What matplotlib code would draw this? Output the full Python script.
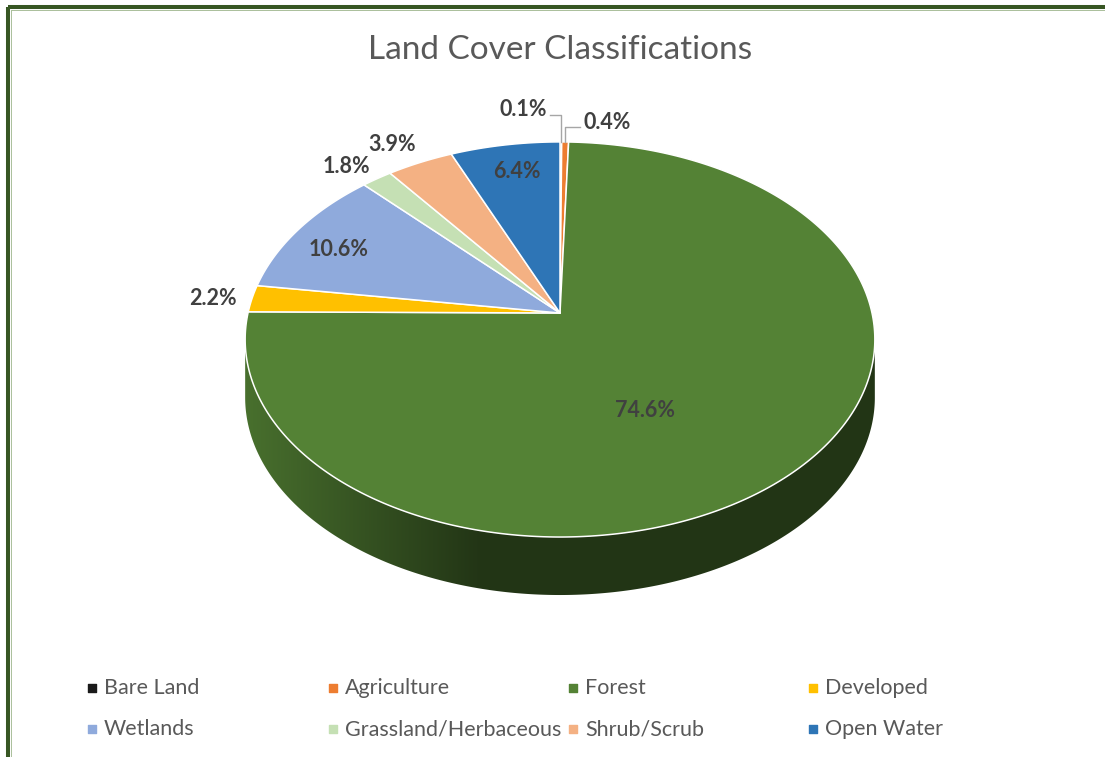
import numpy as np
import matplotlib
matplotlib.use('Agg')
import matplotlib.pyplot as plt
from matplotlib.patches import Polygon, Rectangle
from matplotlib.colors import to_rgb

plt.rcParams['font.family'] = ['Lato', 'DejaVu Sans']

# data
categories = ['Bare Land', 'Agriculture', 'Forest', 'Developed',
              'Wetlands', 'Grassland/Herbaceous', 'Shrub/Scrub', 'Open Water']
shares = [0.1, 0.4, 74.6, 2.2, 10.6, 1.8, 3.9, 6.4]
colors = ['#1a1a1a', '#ED7D31', '#548235', '#FFC000',
          '#8FAADC', '#C5E0B4', '#F4B183', '#2E75B6']

# label placement (radius factor, angle shift from slice middle)
label_r = [1.225, 1.147, 0.534, 1.125, 0.82, 1.135, 1.158, 0.82]
label_shift = [-6.6, 7.6, 15.4, -0.6, -2.5, -1.9, -1.7, 0.7]
leader = [True, True, False, False, False, False, False, False]

# pie geometry in pixels (perspective disk)
cx, cy = 560, 313
A, B, k = 312, 194, 0.134
depth = 58


def proj(r, theta):
    # theta: degrees clockwise from 12 o'clock
    phi = np.radians(90 - np.asarray(theta))
    u = r * np.cos(phi)
    v = r * np.sin(phi)
    w = 1 + k * v
    return cx + A * u / w, cy - B * v / w


fig = plt.figure(figsize=(11.05, 7.57), dpi=100)
ax = fig.add_axes([0, 0, 1, 1])
ax.axis('off')

# frame
ax.add_patch(Rectangle((8, 7), 1200, 800, fill=False, edgecolor='#375623', lw=2.9, zorder=1))
ax.add_patch(Rectangle((10.5, 9.5), 1200, 800, fill=False, edgecolor='#9cb48a', lw=0.6, zorder=1))

ax.text(560, 50, 'Land Cover Classifications', ha='center', va='center',
        fontsize=24, color='#595959')

total = sum(shares)
bounds = np.concatenate([[0], np.cumsum(shares)]) / total * 360

# side of the disk (front part only), shaded left→right
xl = proj(1, 262)[0]
xr = proj(1, 98)[0]
for i in range(len(shares)):
    ts = np.linspace(bounds[i], bounds[i + 1], max(int((bounds[i + 1] - bounds[i]) * 4), 2))
    vis = np.sin(np.radians(90 - ts)) < -k
    if vis.sum() < 2:
        continue
    ts = ts[vis]
    xs, ys = proj(1, ts)
    pts = list(zip(xs, ys)) + list(zip(xs[::-1], ys[::-1] + depth))
    poly = Polygon(pts, closed=True, facecolor='none', edgecolor='none', zorder=2)
    ax.add_patch(poly)
    gx = np.linspace(xl, xr, 400)
    f = np.clip((gx - xl) / (480 - xl), 0, 1)
    shade = 0.86 - 0.45 * f
    img = np.array(to_rgb(colors[i]))[None, None, :] * shade[None, :, None]
    im = ax.imshow(img, extent=[xl, xr, ys.max() + depth + 2, ys.min() - 2],
                   aspect='auto', interpolation='bilinear', zorder=2)
    im.set_clip_path(poly)

# top face
for i in range(len(shares)):
    a0, a1 = bounds[i], bounds[i + 1]
    ts = np.linspace(a0, a1, max(int((a1 - a0) * 2), 3))
    xs, ys = proj(1, ts)
    pts = [(cx, cy)] + list(zip(xs, ys))
    ax.add_patch(Polygon(pts, closed=True, facecolor=colors[i], edgecolor='white',
                         lw=1.1, joinstyle='round', zorder=3))

# labels
for i, s in enumerate(shares):
    mid = 0.5 * (bounds[i] + bounds[i + 1])
    lx, ly = proj(label_r[i], mid + label_shift[i])
    ax.text(lx, ly, f'{s:.1f}%', ha='center', va='center', fontsize=15.5,
            fontweight='bold', color='#404040', zorder=5)
    if leader[i]:
        rx, ry = proj(1.0, mid)
        side = 1 if lx < rx else -1
        ex = lx + side * 27
        ax.plot([ex, rx, rx], [ly + 5, ly + 5, ry], color='#A6A6A6', lw=1, zorder=4)

# legend
col_x = [92, 333, 573, 813]
row_y = [688, 729]
for i, name in enumerate(categories):
    r, c = divmod(i, 4)
    ax.scatter(col_x[c], row_y[r], marker='s', s=30, color=colors[i], zorder=5)
    ax.text(col_x[c] + 12, row_y[r], name, ha='left', va='center',
            fontsize=15.5, color='#595959')

ax.set_xlim(0, 1105)
ax.set_ylim(757, 0)
fig.savefig('out.png', dpi=100)
